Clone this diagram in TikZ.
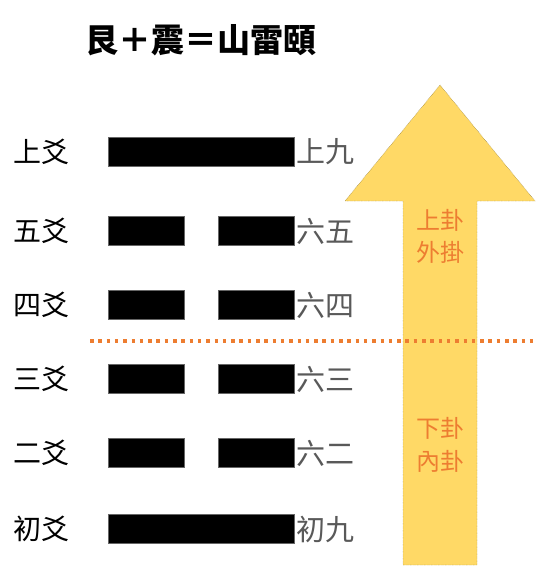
\documentclass[tikz,border=0pt]{standalone}
\usepackage{fontspec}
\setmainfont{Noto Sans CJK TC}
\definecolor{arrowfill}{HTML}{FFD966}
\definecolor{arrowedge}{HTML}{6B5A1E}
\definecolor{orng}{HTML}{ED7D31}
\definecolor{graytxt}{HTML}{595959}
\tikzset{
  yao/.style={fill=black, draw=black!60, line width=0.4pt},
  leftlab/.style={anchor=west, inner sep=0pt, font=\fontsize{28}{30}\selectfont, text=black},
  rightlab/.style={anchor=west, inner sep=0pt, font=\fontsize{29}{31}\selectfont, text=graytxt},
  guatxt/.style={inner sep=0pt, font=\fontsize{24}{26}\selectfont, text=orng},
  divider/.style={orng, line width=3.5pt, dash pattern=on 3.5pt off 4.8pt},
}
\begin{document}
\begin{tikzpicture}[x=1pt,y=-1pt]
\useasboundingbox (0,0) rectangle (538,578);
\fill[white] (0,0) rectangle (538,578);
% title
\node[inner sep=0pt, font=\fontsize{33}{35}\selectfont\bfseries] (title) at (201,40) {艮＋震＝山雷頤};
% arrow
\draw[fill=arrowfill, draw=arrowedge, line width=0.4pt, densely dotted]
  (440,85) -- (535,201) -- (477,201) -- (477,565) -- (403,565) -- (403,201) -- (345,201) -- cycle;
% rows
\foreach \nm/\y/\lab/\rl/\solid in {r6/152/上爻/上九/1, r5/231/五爻/六五/0, r4/305/四爻/六四/0, r3/379/三爻/六三/0, r2/453/二爻/六二/0, r1/529/初爻/初九/1}{
  \ifnum\solid=1
    \fill[yao] (108,\y-14.5) rectangle (294,\y+14.5);
  \else
    \fill[yao] (108,\y-14.5) rectangle (184,\y+14.5);
    \fill[yao] (218,\y-14.5) rectangle (294,\y+14.5);
  \fi
  \node[leftlab] (\nm L) at (13,\y) {\lab};
  \node[rightlab] (\nm R) at (296,\y) {\rl};
}
% divider
\coordinate (dl) at (90,341);
\coordinate (dr) at (538,341);
\draw[divider] (dl) -- (dr);
% gua labels
\node[guatxt] (up1) at (440,220) {上卦};
\node[guatxt] (up2) at (440,252) {外掛};
\node[guatxt] (lo1) at (440,428) {下卦};
\node[guatxt] (lo2) at (440,461) {內卦};
\end{tikzpicture}
\end{document}
